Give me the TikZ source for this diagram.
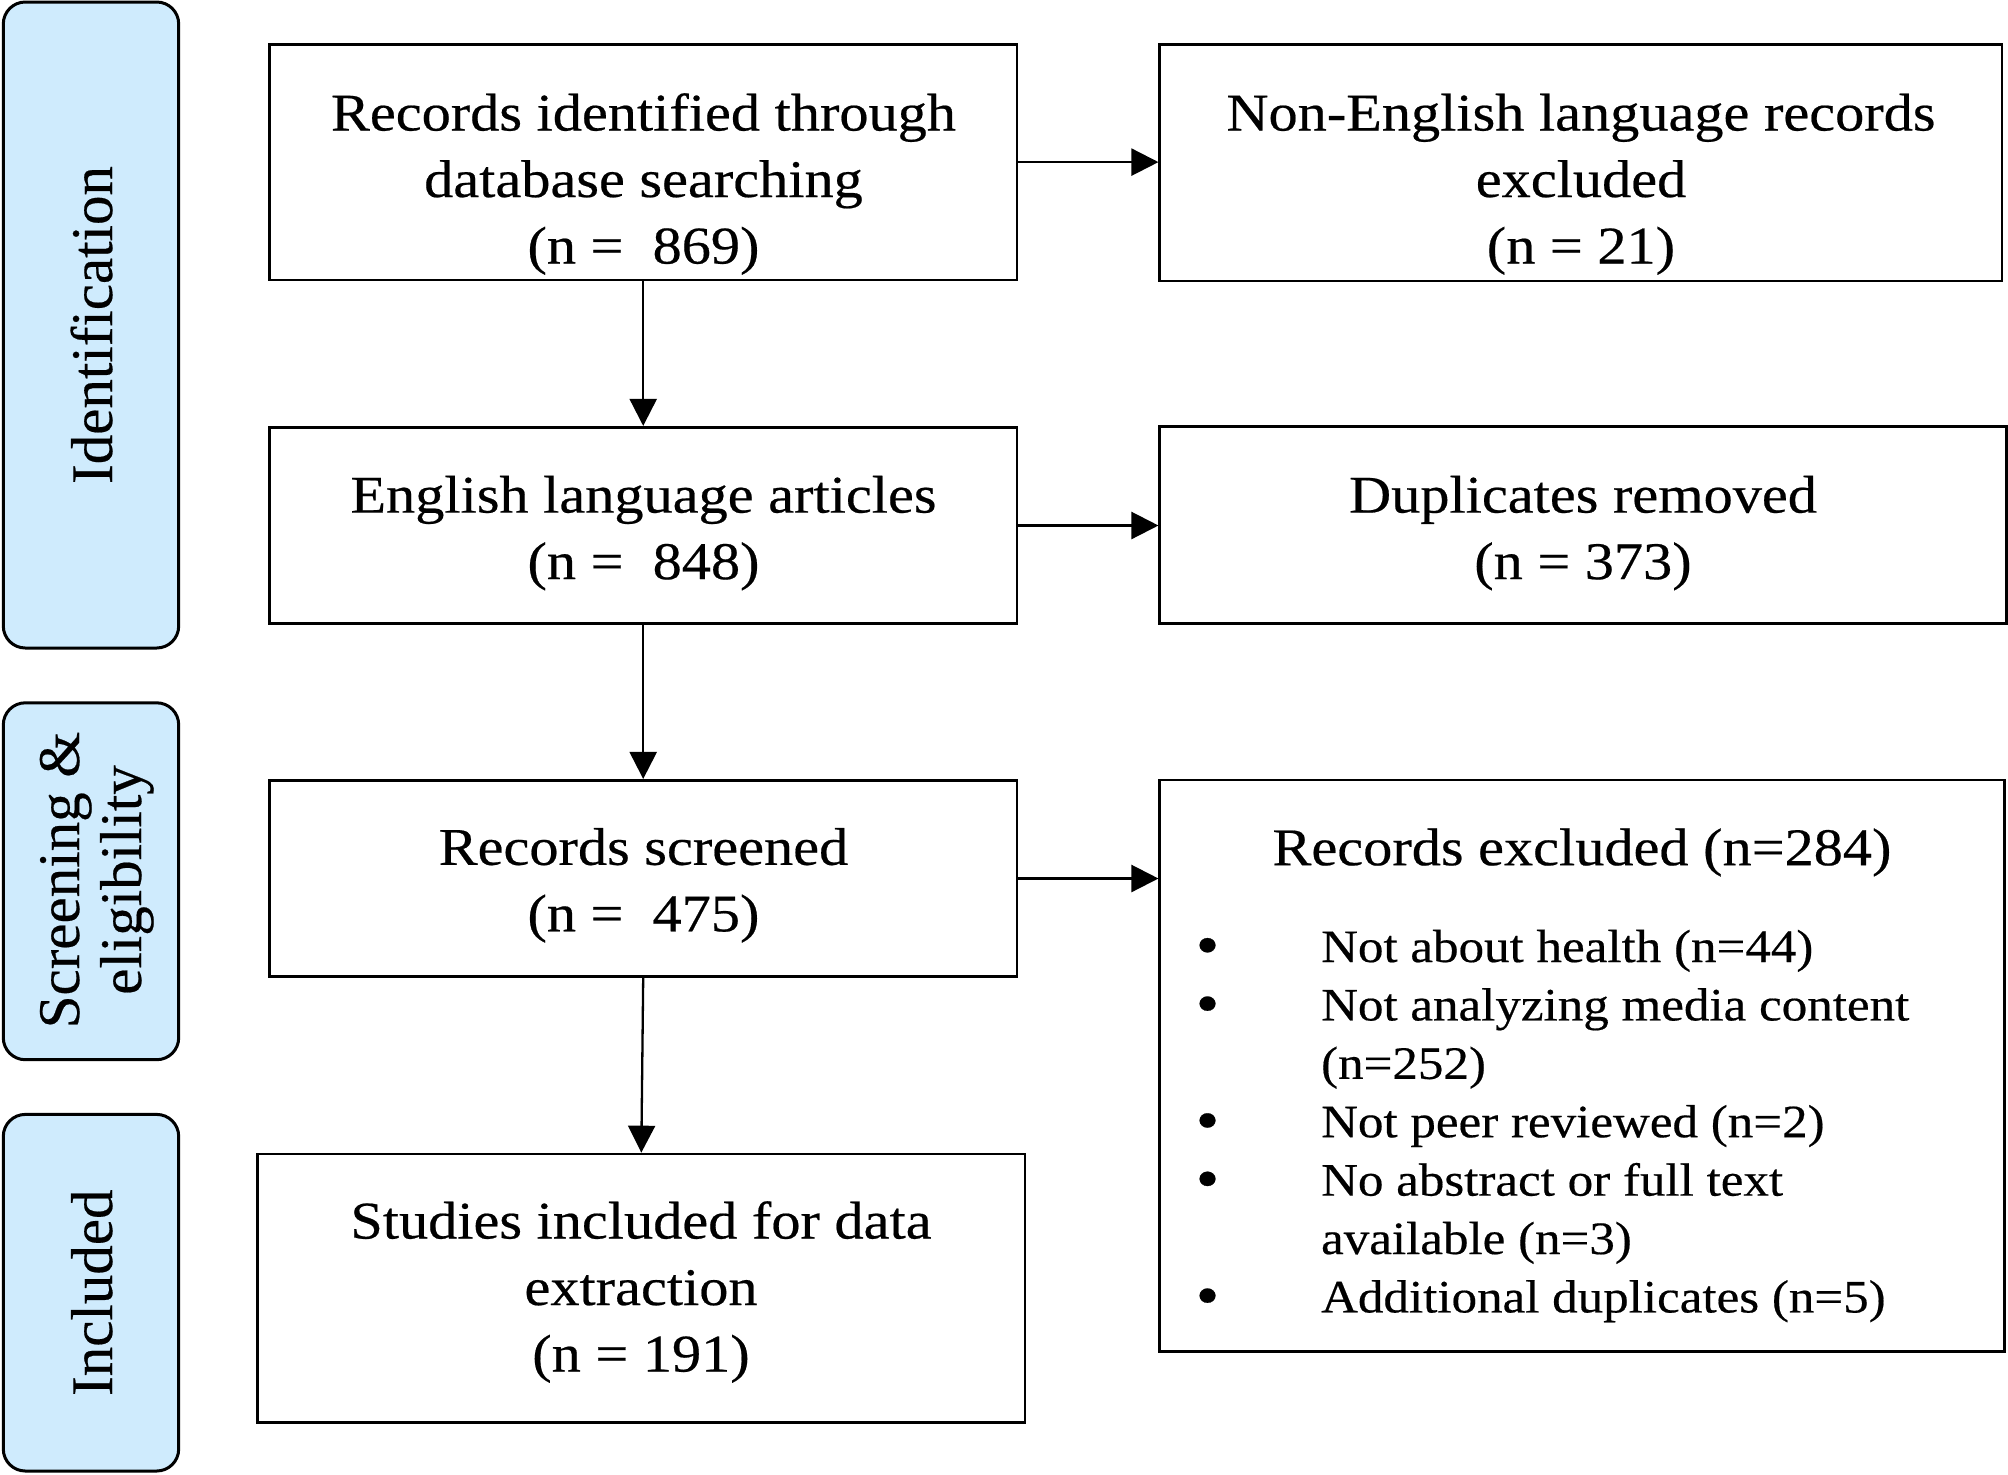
\documentclass[tikz,border=0pt]{standalone}
\usepackage{fontspec}
\setmainfont{Liberation Serif}[FakeBold=0.35]
\newfontfamily\bxfont{Liberation Serif}[FakeStretch=1.1,FakeBold=0.4]
\usetikzlibrary{arrows.meta,calc}
\definecolor{sidefill}{RGB}{207,235,253}
\newcommand{\rows}[1]{\begin{tabular}[t]{@{}c@{}}#1\end{tabular}}
\newcommand{\bul}{\raisebox{-1.6pt}{\scalebox{1.3}{\textbullet}}}
\begin{document}
\begin{tikzpicture}[x=0.5pt,y=-0.5pt,
  box/.style={draw=black, line width=1.35pt, inner sep=0pt},
  side/.style={draw=black, fill=sidefill, line width=1.5pt, rounded corners=11pt, inner sep=0pt, minimum width=87.7pt},
  txt/.style={anchor=base, inner sep=0pt, font=\bxfont\fontsize{26.5}{33.25}\selectfont},
  lst/.style={anchor=base west, inner sep=0pt, font=\bxfont\fontsize{23.2}{29.2}\selectfont},
  stxt/.style={anchor=base, rotate=90, inner sep=0pt, font=\fontsize{29.5}{31}\selectfont},
  arr/.style={-{Triangle[length=13.5pt,width=13.5pt]}, line width=1.15pt}]
\useasboundingbox (0,0) rectangle (2008,1474);
% side bars
\node[side, minimum height=323pt] (s1) at (91,325) {};
\node[side, minimum height=178.45pt] (s2) at (91,881.25) {};
\node[side, minimum height=178.3pt] (s3) at (91,1292.7) {};
\node[stxt] (s1t) at (112,325) {Identification};
\node[stxt] (s2t) at (79,880) {\rows{Screening \&\\eligibility}};
\node[stxt] (s3t) at (112,1292.7) {Included};
% boxes
\node[box, minimum width=373.8pt, minimum height=117.9pt] (A) at (643.2,162.1) {};
\node[box, minimum width=421.1pt, minimum height=118.4pt] (B) at (1580.9,162.6) {};
\node[box, minimum width=373.8pt, minimum height=98.25pt] (C) at (643.2,525.5) {};
\node[box, minimum width=423.3pt, minimum height=98.7pt] (D) at (1583.1,525) {};
\node[box, minimum width=373.8pt, minimum height=98.2pt] (E) at (643.2,878.5) {};
\node[box, minimum width=422.45pt, minimum height=285.65pt] (F) at (1582.25,1065.65) {};
\node[box, minimum width=383.7pt, minimum height=134.4pt] (G) at (641.3,1288.4) {};
% texts
\node[txt] (At) at (643.5,130.5) {\rows{Records identified through\\database searching\\(n = \ 869)}};
\node[txt] (Bt) at (1581,130.5) {\rows{Non-English language records\\excluded\\(n = 21)}};
\node[txt] (Ct) at (643.5,512.6) {\rows{English language articles\\(n = \ 848)}};
\node[txt] (Dt) at (1583,512.6) {\rows{Duplicates removed\\(n = 373)}};
\node[txt] (Et) at (643.5,864.8) {\rows{Records screened\\(n = \ 475)}};
\node[txt] (Gt) at (641,1238.5) {\rows{Studies included for data\\extraction\\(n = 191)}};
\node[txt] (Ft) at (1582,865.2) {Records excluded (n=284)};
\node[lst] (Fl) at (1195.5,962) {\begin{tabular}[t]{@{}p{62.6pt}@{}l@{}}
\bul & Not about health (n=44)\\
\bul & Not analyzing media content\\
 & (n=252)\\
\bul & Not peer reviewed (n=2)\\
\bul & No abstract or full text\\
 & available (n=3)\\
\bul & Additional duplicates (n=5)
\end{tabular}};
% arrows
\draw[arr] (A.east) -- (A.east -| B.west);
\draw[arr] (C.east) -- (C.east -| D.west);
\draw[arr] (E.east) -- (E.east -| F.west);
\draw[arr] (A.south) -- (C.north);
\draw[arr] (C.south) -- (E.north);
\draw[arr] (E.south) -- (G.north);
\end{tikzpicture}
\end{document}
